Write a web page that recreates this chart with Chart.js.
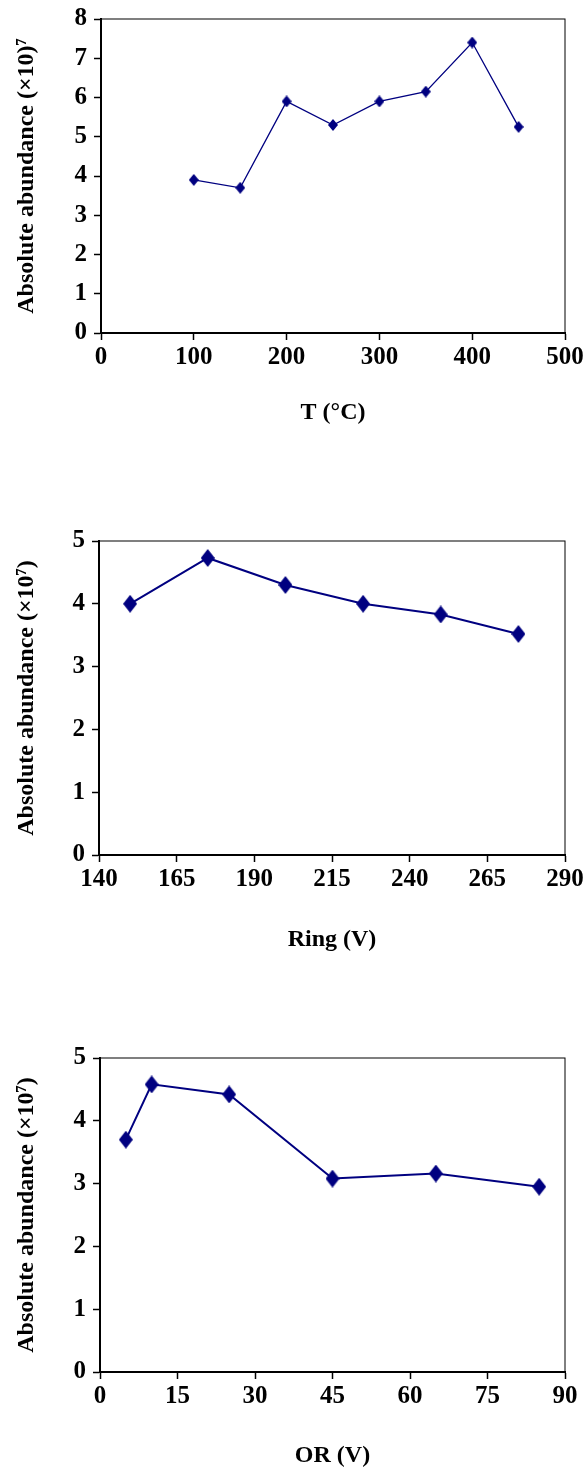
<!DOCTYPE html>
<html>
<head>
<meta charset="utf-8">
<title>Absolute abundance</title>
<script src="https://cdn.jsdelivr.net/npm/chart.js@4/dist/chart.umd.min.js"></script>
<style>
  html, body { margin: 0; padding: 0; background: #fff; }
  body { width: 583px; height: 1468px; position: relative; overflow: hidden; }
  canvas { position: absolute; left: 0; }
</style>
</head>
<body>
<canvas id="tempChart" width="583" height="440" style="top:0px"></canvas>
<canvas id="ringChart" width="583" height="500" style="top:480px"></canvas>
<canvas id="orChart" width="583" height="468" style="top:1000px"></canvas>
<script>
// --- 1. DATA ---

// top panel: source temperature
const TEMP_X = [100, 150, 200, 250, 300, 350, 400, 450];
const TEMP_Y = [3.9, 3.7, 5.9, 5.3, 5.9, 6.15, 7.4, 5.25];

// middle panel: ring voltage
const RING_X = [150, 175, 200, 225, 250, 275];
const RING_Y = [4.0, 4.73, 4.3, 4.0, 3.83, 3.52];

// bottom panel: OR voltage
const OR_X = [5, 10, 25, 45, 65, 85];
const OR_Y = [3.7, 4.58, 4.42, 3.08, 3.16, 2.95];

const Y_TITLE_TEMP = 'Absolute abundance (×10)⁷';
const Y_TITLE = 'Absolute abundance (×10⁷)';

// --- 2. STYLE HELPERS ---

const FONT = '"Liberation Serif", "Times New Roman", serif';
const NAVY = '#000080';

// Excel style diamond, a little taller than wide
const makeDiamond = (w, h) => {
    const c = document.createElement('canvas');
    c.width = w;
    c.height = h;
    const g = c.getContext('2d');
    g.fillStyle = NAVY;
    g.beginPath();
    g.moveTo(w / 2, 0);
    g.lineTo(w, h / 2);
    g.lineTo(w / 2, h);
    g.lineTo(0, h / 2);
    g.closePath();
    g.fill();
    return c;
};

// thin box around the plot area
const framePlugin = {
    id: 'frame',
    beforeDatasetsDraw(chart) {
        const { ctx, chartArea: a } = chart;
        ctx.save();
        ctx.strokeStyle = '#000';
        ctx.lineWidth = 1;
        ctx.strokeRect(a.left, a.top, a.right - a.left, a.bottom - a.top);
        ctx.restore();
    }
};

// --- 3. CHART BUILDER ---

const renderPanel = (id, p) => {
    const canvas = document.getElementById(id);
    const H = canvas.height;
    const tickFont = { family: FONT, size: 25, weight: 'bold' };
    const titleFont = { family: FONT, size: 24, weight: 'bold', lineHeight: 1 };

    return new Chart(canvas.getContext('2d'), {
        type: 'line',
        data: {
            datasets: [{
                data: p.xs.map((x, i) => ({ x: x, y: p.ys[i] })),
                borderColor: NAVY,
                backgroundColor: NAVY,
                borderWidth: p.lineWidth,
                pointStyle: makeDiamond(p.marker[0], p.marker[1]),
                pointRadius: 5,
                tension: 0,
                fill: false
            }]
        },
        options: {
            responsive: false,
            animation: false,
            layout: { padding: { left: 0, right: 583 - p.right, top: p.top, bottom: 0 } },
            plugins: { legend: { display: false }, tooltip: { enabled: false } },
            scales: {
                x: {
                    type: 'linear',
                    min: p.xMin,
                    max: p.xMax,
                    ticks: { stepSize: p.xStep, font: tickFont, color: '#000', padding: 3, maxRotation: 0, autoSkip: false },
                    grid: { drawOnChartArea: false, tickLength: 7, tickColor: '#000', tickWidth: 1.5 },
                    border: { color: '#000', width: 2 },
                    title: { display: true, text: p.xTitle, font: titleFont, color: '#000', padding: { top: 0, bottom: p.titlePad } },
                    afterFit: (s) => {
                        s.height = H - p.bottom;
                        // let the end labels hang past the plot edge like Excel does
                        s.paddingLeft = 0;
                        s.paddingRight = 0;
                    }
                },
                y: {
                    min: 0,
                    max: p.yMax,
                    ticks: { stepSize: 1, font: tickFont, color: '#000', padding: 7 },
                    grid: { drawOnChartArea: false, tickLength: 7, tickColor: '#000', tickWidth: 1.5 },
                    border: { color: '#000', width: 2 },
                    title: { display: true, text: p.yTitle, font: titleFont, color: '#000', padding: { top: 15, bottom: 0 } },
                    afterFit: (s) => {
                        s.width = p.left;
                        s.paddingTop = 0;
                        s.paddingBottom = 0;
                    }
                }
            }
        },
        plugins: [framePlugin]
    });
};

// --- 4. INITIALIZATION ---

// top / bottom are plot area edges measured inside each canvas
renderPanel('tempChart', {
    xs: TEMP_X, ys: TEMP_Y, xMin: 0, xMax: 500, xStep: 100, yMax: 8,
    xTitle: 'T (°C)', yTitle: Y_TITLE_TEMP,
    left: 101, right: 565, top: 19, bottom: 333, titlePad: 15,
    lineWidth: 1.3, marker: [10, 12]
});

renderPanel('ringChart', {
    xs: RING_X, ys: RING_Y, xMin: 140, xMax: 290, xStep: 25, yMax: 5,
    xTitle: 'Ring (V)', yTitle: Y_TITLE,
    left: 99, right: 565, top: 61, bottom: 375, titlePad: 28,
    lineWidth: 2, marker: [14, 18]
});

renderPanel('orChart', {
    xs: OR_X, ys: OR_Y, xMin: 0, xMax: 90, xStep: 15, yMax: 5,
    xTitle: 'OR (V)', yTitle: Y_TITLE,
    left: 100, right: 565, top: 58, bottom: 372, titlePad: 0,
    lineWidth: 2, marker: [14, 18]
});
</script>
</body>
</html>
